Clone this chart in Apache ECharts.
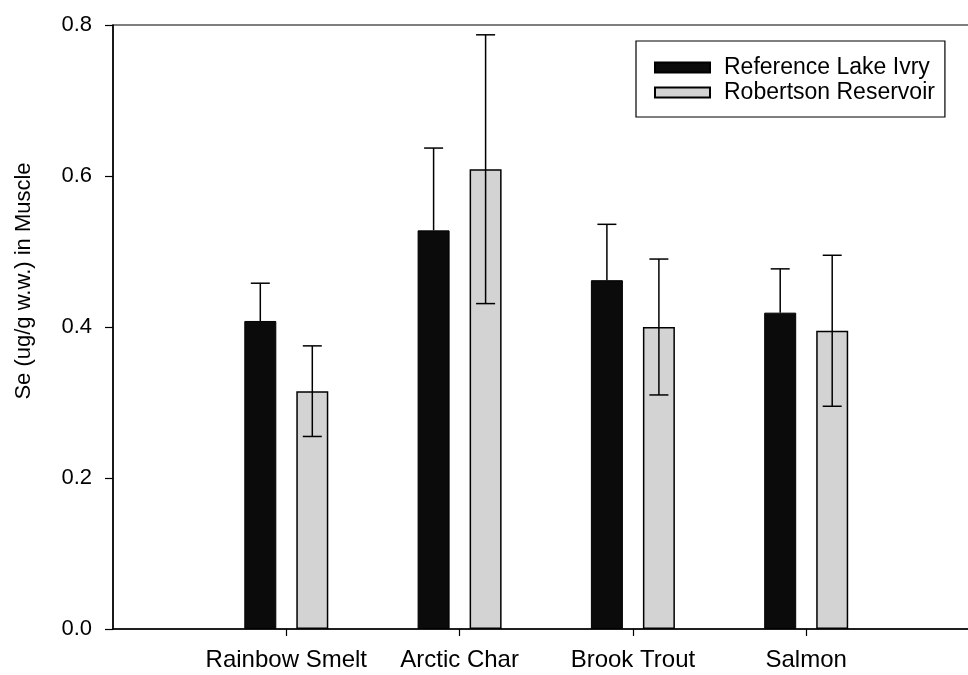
<!DOCTYPE html>
<html>
<head>
<meta charset="utf-8">
<script src="https://cdn.jsdelivr.net/npm/echarts@6/dist/echarts.min.js"></script>
<style>
  html, body { margin: 0; padding: 0; background: #fff; }
  #chart { width: 968px; height: 675px; }
</style>
</head>
<body>
<div id="chart"></div>
<script>
// Fish species (padded with empty slots so the axis runs 0..5)
const species = ['', 'Rainbow Smelt', 'Arctic Char', 'Brook Trout', 'Salmon', ''];
const seriesNames = ['Reference Lake Ivry', 'Robertson Reservoir'];

// Mean Se concentration in muscle (ug/g wet weight)
const lakeIvryMean = [null, 0.408, 0.528, 0.462, 0.419, null];
const robertsonMean = [null, 0.315, 0.609, 0.400, 0.395, null];

// Error bar half-widths
const lakeIvryErr = [null, 0.050, 0.109, 0.074, 0.058, null];
const robertsonErr = [null, 0.060, 0.178, 0.090, 0.100, null];

const yTicks = [0, 0.2, 0.4, 0.6, 0.8];

const FONT = 'Liberation Sans, Arial, Helvetica, sans-serif';
const BAR_W = 32;
const BAR_GAP = 20;
const CAP_W = 19;

// [category index, mean, error, side (-1 left bar / +1 right bar), draw lower whisker]
function errorData(means, errs, side, lower) {
  const out = [];
  means.forEach((m, i) => {
    if (m != null) out.push([i, m, errs[i], side, lower ? 1 : 0]);
  });
  return out;
}

function renderError(params, api) {
  const idx = api.value(0);
  const mean = api.value(1);
  const err = api.value(2);
  const side = api.value(3);
  const lower = api.value(4);
  const dx = side * (BAR_W / 2 + BAR_GAP / 2);
  const hi = api.coord([idx, mean + err]);
  const mid = api.coord([idx, mean]);
  const lo = api.coord([idx, mean - err]);
  const x = hi[0] + dx;
  const style = { stroke: '#000', lineWidth: 1.5 };
  const children = [
    { type: 'line', shape: { x1: x, y1: lower ? lo[1] : mid[1], x2: x, y2: hi[1] }, style },
    { type: 'line', shape: { x1: x - CAP_W / 2, y1: hi[1], x2: x + CAP_W / 2, y2: hi[1] }, style }
  ];
  if (lower) {
    children.push({ type: 'line', shape: { x1: x - CAP_W / 2, y1: lo[1], x2: x + CAP_W / 2, y2: lo[1] }, style });
  }
  return { type: 'group', children };
}

const chart = echarts.init(document.getElementById('chart'), null, { renderer: 'canvas' });

chart.setOption({
  animation: false,
  backgroundColor: '#fff',
  textStyle: { fontFamily: FONT, color: '#000' },
  grid: {
    left: 113, top: 25, width: 866.5, bottom: 46,
    outerBoundsMode: 'none',
    containLabel: false,
    show: true, borderColor: '#000', borderWidth: 1.2
  },
  legend: {
    data: seriesNames,
    orient: 'vertical',
    left: 636, top: 41,
    itemWidth: 55, itemHeight: 10, itemGap: 2,
    icon: 'rect',
    padding: [15, 10, 13, 18],
    borderColor: '#000', borderWidth: 1.2,
    backgroundColor: '#fff',
    textStyle: { fontSize: 23, fontFamily: FONT, color: '#000', padding: [0, 0, 0, 9] }
  },
  xAxis: {
    type: 'category',
    data: species,
    boundaryGap: false,
    axisLine: { lineStyle: { color: '#000', width: 1.5 } },
    axisTick: {
      length: 7,
      interval: (i, v) => v !== '',
      lineStyle: { color: '#000', width: 1.2 }
    },
    axisLabel: {
      interval: 0, fontSize: 24, fontFamily: FONT, color: '#000', margin: 19
    },
    splitLine: { show: false }
  },
  yAxis: {
    type: 'value',
    min: yTicks[0], max: yTicks[yTicks.length - 1], interval: 0.2,
    axisLine: { show: true, lineStyle: { color: '#000', width: 1.5 } },
    axisTick: { show: true, length: 8, lineStyle: { color: '#000', width: 1.2 } },
    axisLabel: {
      fontSize: 22, fontFamily: FONT, color: '#000', margin: 21,
      formatter: v => v.toFixed(1)
    },
    splitLine: { show: false }
  },
  graphic: [{
    type: 'text',
    x: 24, y: 281,
    rotation: Math.PI / 2,
    style: {
      text: 'Se (ug/g w.w.) in Muscle',
      fontSize: 22, fontFamily: FONT, fill: '#000',
      align: 'center', verticalAlign: 'middle'
    }
  }],
  series: [
    {
      name: seriesNames[0],
      type: 'bar',
      data: lakeIvryMean,
      barWidth: BAR_W,
      barGap: (BAR_GAP / BAR_W * 100) + '%',
      itemStyle: { color: '#0b0b0b', borderColor: '#000', borderWidth: 1 }
    },
    {
      name: seriesNames[1],
      type: 'bar',
      data: robertsonMean,
      barWidth: BAR_W,
      itemStyle: { color: '#d3d3d3', borderColor: '#000', borderWidth: 1.5 }
    },
    {
      name: 'err-ivry',
      type: 'custom',
      renderItem: renderError,
      data: errorData(lakeIvryMean, lakeIvryErr, -1, false),
      z: 5
    },
    {
      name: 'err-robertson',
      type: 'custom',
      renderItem: renderError,
      data: errorData(robertsonMean, robertsonErr, 1, true),
      z: 5
    }
  ]
});
</script>
</body>
</html>
